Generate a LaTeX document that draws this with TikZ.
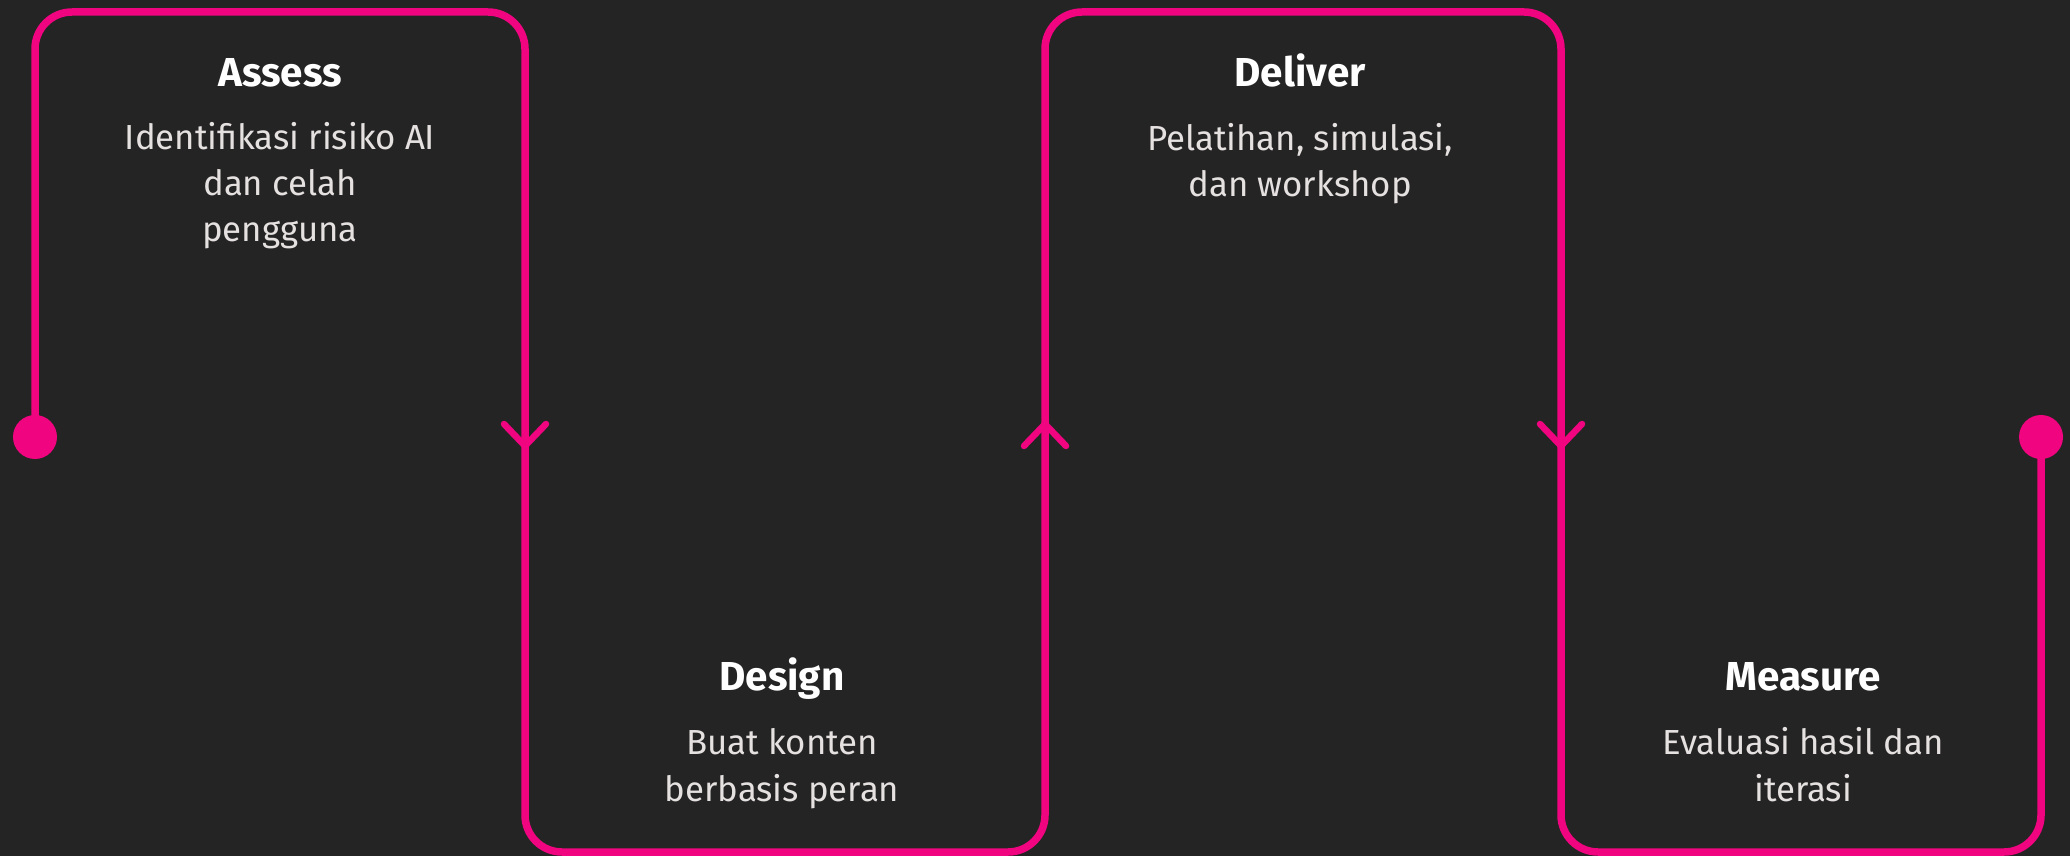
\documentclass[tikz,border=0pt]{standalone}
\usepackage{fontspec}
\setmainfont{Fira Sans}
\usetikzlibrary{positioning}
\definecolor{bgdark}{HTML}{252424}
\definecolor{flowpink}{HTML}{F0047F}
\definecolor{desctext}{HTML}{E6E1E1}

\begin{document}
\begin{tikzpicture}[
        x=0.2mm, y=-0.2mm, % 1 unit = 1 px of the reference
        flow/.style = {draw=flowpink, line width=1.5mm, rounded corners=7.4mm},
        chevron/.style = {draw=flowpink, line width=1.3mm, line cap=round, line join=round},
        dot/.style = {circle, fill=flowpink, minimum size=8.8mm, inner sep=0pt},
        steptitle/.style = {font=\fontsize{23}{27}\selectfont\bfseries, text=white, inner sep=0pt},
        stepdesc/.style = {font=\fontsize{19.8}{26.2}\selectfont, text=desctext, align=center, inner sep=0pt},
    ]

    % background
    \fill[bgdark] (0,0) rectangle (2070,856);

    % start and end dots
    \node[dot] (start) at (35,437) {};
    \node[dot] (finish) at (2041,437) {};

    % corners of the flow line
    \coordinate (c1) at (35,12);
    \coordinate (c2) at (525,12);
    \coordinate (c3) at (525,852);
    \coordinate (c4) at (1045,852);
    \coordinate (c5) at (1045,12);
    \coordinate (c6) at (1561,12);
    \coordinate (c7) at (1561,852);
    \coordinate (c8) at (2041,852);

    \draw[flow] (start.center) -- (c1) -- (c2) -- (c3) -- (c4) -- (c5) -- (c6) -- (c7) -- (c8) -- (finish.center);

    % direction marks
    \foreach \x in {525,1561}
        \draw[chevron] (\x-21,424) -- (\x,446) -- (\x+21,424);
    \draw[chevron] (1045-21,446) -- (1045,424) -- (1045+21,446);

    % steps (desc nodes sit on the baseline of their last line)
    \node[steptitle, anchor=base] (assess) at (280,87) {Assess};
    \node[stepdesc, anchor=base] (assessD) at (280,242) {Identifikasi risiko AI\\dan celah\\pengguna};

    \node[steptitle, anchor=base] (design) at (782,690) {Design};
    \node[stepdesc, anchor=base] (designD) at (782,801) {Buat konten\\berbasis peran};

    \node[steptitle, anchor=base] (deliver) at (1300,87) {Deliver};
    \node[stepdesc, anchor=base] (deliverD) at (1300,197) {Pelatihan, simulasi,\\dan workshop};

    \node[steptitle, anchor=base] (measure) at (1803,690) {Measure};
    \node[stepdesc, anchor=base] (measureD) at (1803,801) {Evaluasi hasil dan\\iterasi};

\end{tikzpicture}
\end{document}
